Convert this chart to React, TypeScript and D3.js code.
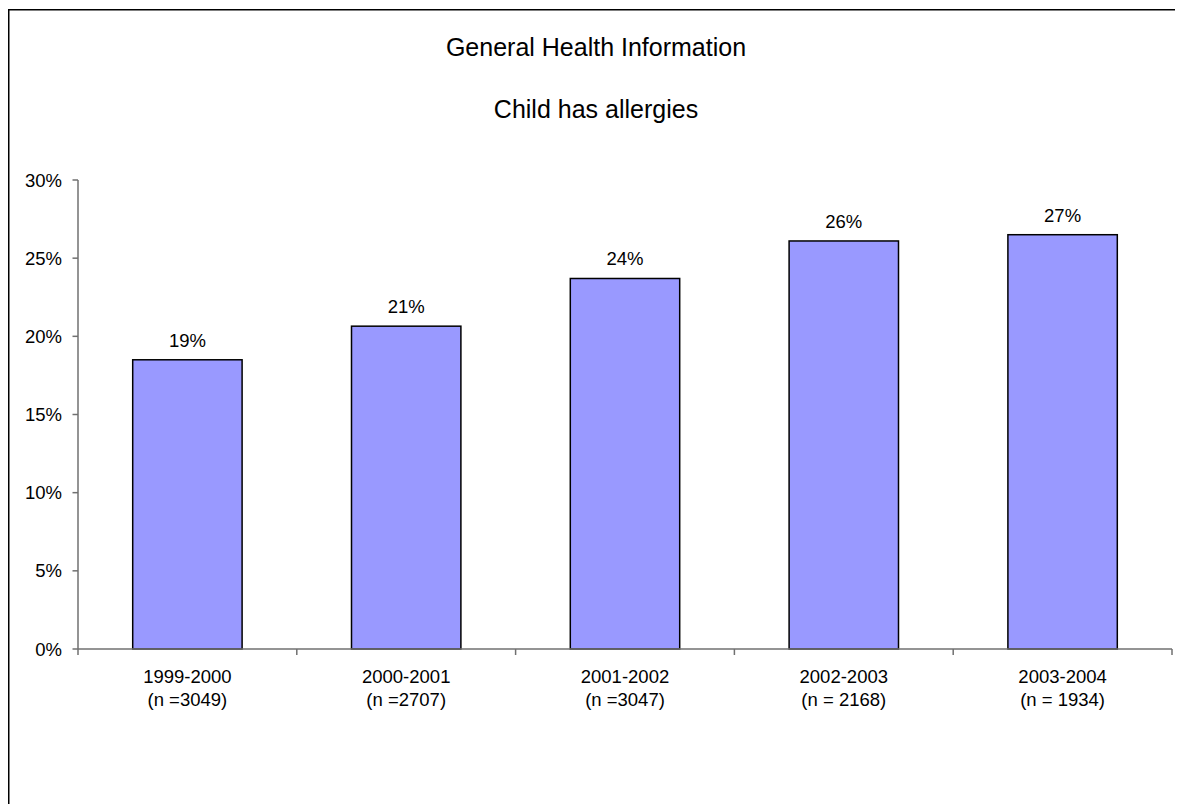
import React, { useEffect } from "react";
import * as d3 from "d3";

const title1 = "General Health Information";
const title2 = "Child has allergies";
const categories = ["1999-2000", "2000-2001", "2001-2002", "2002-2003", "2003-2004"];
const sampleLabels = ["(n =3049)", "(n =2707)", "(n =3047)", "(n = 2168)", "(n = 1934)"];
const values = [18.5, 20.65, 23.7, 26.1, 26.5];
const yTicks = [0, 5, 10, 15, 20, 25, 30];

const W = 1175;
const H = 796;
const font = "'Liberation Sans', Arial, sans-serif";

export default function App() {
  useEffect(() => {
    document.documentElement.style.overflow = "hidden";
    document.body.style.overflow = "hidden";
  }, []);

  const x = d3.scaleBand<string>().domain(categories).range([70, 1164]).padding(0);
  const y = d3.scaleLinear().domain([0, 30]).range([641, 172]);
  const barW = x.bandwidth() * 0.5;
  const boundaries = [...categories.map((c) => x(c) as number), 1164];

  return (
    <svg width={W} height={H} style={{ display: "block" }} fontFamily={font}>
      <line x1={0.75} x2={W} y1={1.75} y2={1.75} stroke="black" strokeWidth={1.5} />
      <line x1={0.75} x2={0.75} y1={1} y2={H} stroke="black" strokeWidth={1.5} />
      <text x={588} y={48} textAnchor="middle" fontSize={25} fill="black">{title1}</text>
      <text x={588} y={110.3} textAnchor="middle" fontSize={25} fill="black">{title2}</text>

      {categories.map((c, i) => {
        const cx = (x(c) as number) + x.bandwidth() / 2;
        return (
          <g key={c}>
            <rect
              x={cx - barW / 2}
              y={y(values[i])}
              width={barW}
              height={y(0) - y(values[i])}
              fill="#9999FF"
              stroke="black"
              strokeWidth={1.5}
            />
            <text x={cx} y={y(values[i]) - 13} textAnchor="middle" fontSize={18.5} fill="black">
              {Math.round(values[i])}%
            </text>
            <text x={cx} y={675} textAnchor="middle" fontSize={18.5} fill="black">{c}</text>
            <text x={cx} y={698} textAnchor="middle" fontSize={18.5} fill="black">{sampleLabels[i]}</text>
          </g>
        );
      })}

      <line x1={70} x2={70} y1={y(30)} y2={y(0)} stroke="#707070" strokeWidth={1.5} />
      {yTicks.map((t) => (
        <g key={t}>
          <line x1={64.5} x2={70} y1={y(t)} y2={y(t)} stroke="#707070" strokeWidth={1.5} />
          <text x={54} y={y(t)} dy={6.5} textAnchor="end" fontSize={18.5} fill="black">{t}%</text>
        </g>
      ))}
      <line x1={70} x2={1164} y1={y(0)} y2={y(0)} stroke="#707070" strokeWidth={1.5} />
      {boundaries.map((b, i) => (
        <line key={i} x1={b} x2={b} y1={y(0)} y2={y(0) + 6} stroke="#707070" strokeWidth={1.5} />
      ))}
    </svg>
  );
}
